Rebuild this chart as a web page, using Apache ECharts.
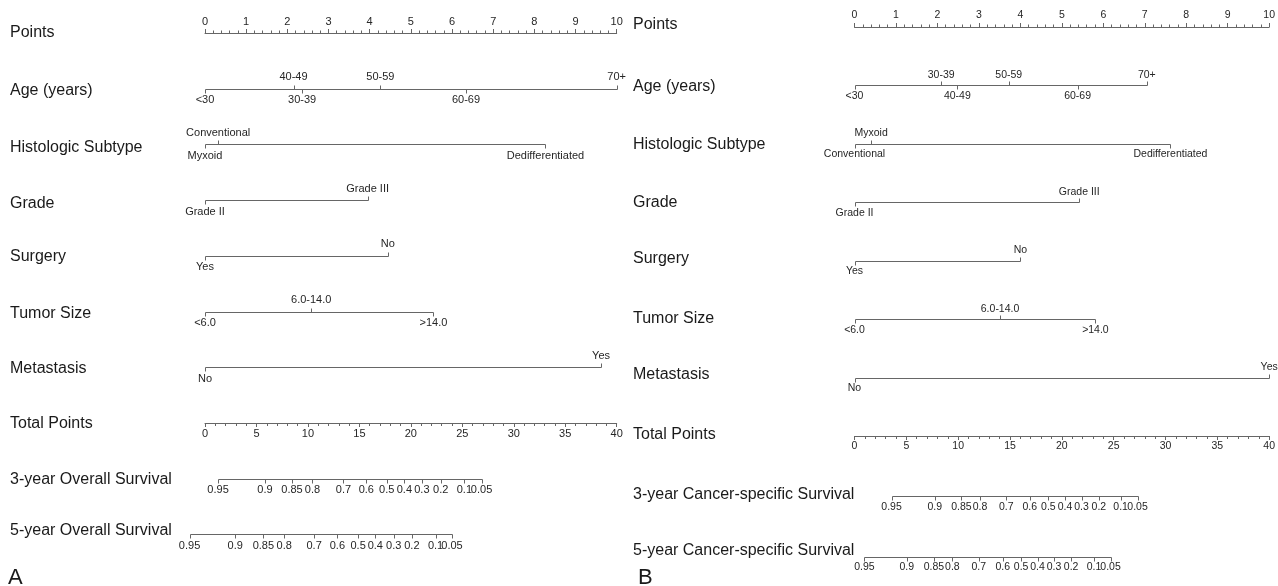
<!DOCTYPE html>
<html>
<head>
<meta charset="utf-8">
<script src="https://cdn.jsdelivr.net/npm/echarts@6/dist/echarts.min.js"></script>
<style>
html,body{margin:0;padding:0;background:#fff;}
#chart{width:1278px;height:586px;}
</style>
</head>
<body>
<div id="chart"></div>
<script>
// ---------------- DATA ----------------
const rowNamesA = ['Points','Age (years)','Histologic Subtype','Grade','Surgery','Tumor Size','Metastasis','Total Points','3-year Overall Survival','5-year Overall Survival'];
const rowNamesB = ['Points','Age (years)','Histologic Subtype','Grade','Surgery','Tumor Size','Metastasis','Total Points','3-year Cancer-specific Survival','5-year Cancer-specific Survival'];

const ageLevels = ['<30','30-39','40-49','50-59','60-69','70+'];
const agePointsA = [0, 2.36, 2.15, 4.26, 6.34, 10];
const agePointsB = [0, 2.09, 2.48, 3.72, 5.38, 7.05];

const histLevelsA = ['Myxoid','Conventional','Dedifferentiated'];
const histPointsA = [0, 0.32, 8.27];
const histLevelsB = ['Conventional','Myxoid','Dedifferentiated'];
const histPointsB = [0, 0.40, 7.62];

const gradeLevels = ['Grade II','Grade III'];
const gradePointsA = [0, 3.95];
const gradePointsB = [0, 5.42];

const surgeryLevels = ['Yes','No'];
const surgeryPointsA = [0, 4.44];
const surgeryPointsB = [0, 4.0];

const tumorLevels = ['<6.0','6.0-14.0','>14.0'];
const tumorPointsA = [0, 2.58, 5.55];
const tumorPointsB = [0, 3.51, 5.81];

const metLevels = ['No','Yes'];
const metPointsA = [0, 9.62];
const metPointsB = [0, 10];

const survProbs = ['0.95','0.9','0.85','0.8','0.7','0.6','0.5','0.4','0.3','0.2','0.1','0.05'];
const os3yrTotalA  = [1.27, 5.83, 8.45, 10.44, 13.45, 15.67, 17.66, 19.37, 21.07, 22.9, 25.2, 26.87];
const os5yrTotalA  = [-1.5, 2.94, 5.67, 7.7, 10.6, 12.86, 14.88, 16.55, 18.33, 20.1, 22.4, 24.0];
const css3yrTotalB = [3.57, 7.74, 10.32, 12.1, 14.64, 16.9, 18.7, 20.3, 21.9, 23.57, 25.67, 27.3];
const css5yrTotalB = [0.95, 5.04, 7.66, 9.44, 11.98, 14.3, 16.07, 17.66, 19.25, 20.9, 23.1, 24.7];

// ---------------- LAYOUT / STYLE ----------------
// label side: 1 = below the line, -1 = above the line
const ageSidesA = [1, 1, -1, -1, 1, -1];
const ageSidesB = [1, -1, 1, -1, 1, -1];
const threeSides = [1, -1, 1];
const twoSides = [1, -1];
const survSides = survProbs.map(() => 1);

const rowPosA = [0,1,2,3,4,5,6,7,8,9];
const rowPosB = [0,1,2,3,4,5,6,7,8.03,9.07];
const labelDyA = [0,2,3,3,1,2,1,1,1,-4];
const labelDyB = [-2,1,1,0,-2,-1,-3,-1,-2,-6];

const LINE = '#666666';
const TEXT = '#262626';
const ROWFONT = '"Liberation Sans", Arial, sans-serif';
const FONT_A = '"Liberation Sans Narrow", "Arial Narrow", "Liberation Sans", sans-serif';
const FONT_B = '"Liberation Sans", Arial, sans-serif';
const TICK = 4;

const panels = [
  { gridLeft: 205, gridRight: 1278 - 616.7, gridTop: 33, gridBottom: 586 - 423, labelX: 10,
    font: FONT_A, fontSize: 11, names: rowNamesA, rowPos: rowPosA, labelDy: labelDyA, labelOff: 11.5,
    vars: [
      [ageLevels, agePointsA, ageSidesA],
      [histLevelsA, histPointsA, threeSides],
      [gradeLevels, gradePointsA, twoSides],
      [surgeryLevels, surgeryPointsA, twoSides],
      [tumorLevels, tumorPointsA, threeSides],
      [metLevels, metPointsA, twoSides]
    ],
    surv: [os3yrTotalA, os5yrTotalA], letter: 'A', letterX: 8 },
  { gridLeft: 854.5, gridRight: 1278 - 1271, gridTop: 27, gridBottom: 586 - 436, labelX: 633,
    font: FONT_B, fontSize: 10.5, names: rowNamesB, rowPos: rowPosB, labelDy: labelDyB, labelOff: 10.5,
    vars: [
      [ageLevels, agePointsB, ageSidesB],
      [histLevelsB, histPointsB, threeSides],
      [gradeLevels, gradePointsB, twoSides],
      [surgeryLevels, surgeryPointsB, twoSides],
      [tumorLevels, tumorPointsB, threeSides],
      [metLevels, metPointsB, twoSides]
    ],
    surv: [css3yrTotalB, css5yrTotalB], letter: 'B', letterX: 638 }
];

const option = { animation: false, grid: [], xAxis: [], yAxis: [], series: [], graphic: [] };

// one custom series per scale row: horizontal line + ticks + labels, all placed through api.coord
function scaleRow(xi, yi, row, xs, labels, sides, P) {
  const lo = Math.min.apply(null, xs), hi = Math.max.apply(null, xs);
  return {
    type: 'custom', coordinateSystem: 'cartesian2d', xAxisIndex: xi, yAxisIndex: yi,
    clip: false, silent: true, z: 3,
    data: xs.map((x, i) => [x, row, sides[i]]),
    renderItem: function (params, api) {
      const p = api.coord([api.value(0), api.value(1)]);
      const s = api.value(2);
      const px = Math.round(p[0]) + 0.5, py = Math.round(p[1]) + 0.5;
      const children = [
        { type: 'line', shape: { x1: px, y1: py, x2: px, y2: py + s * TICK }, style: { stroke: LINE, lineWidth: 1 } },
        { type: 'text', style: { text: labels[params.dataIndex], x: p[0], y: p[1] + s * P.labelOff,
            align: 'center', verticalAlign: 'middle', textAlign: 'center', textVerticalAlign: 'middle',
            fontSize: P.fontSize, fontFamily: P.font, fill: TEXT } }
      ];
      if (params.dataIndex === 0) {
        const a = api.coord([lo, row]), b = api.coord([hi, row]);
        children.push({ type: 'line', shape: { x1: Math.round(a[0]) + 0.5, y1: py, x2: Math.round(b[0]) + 0.5, y2: py },
          style: { stroke: LINE, lineWidth: 1 } });
      }
      return { type: 'group', children: children };
    }
  };
}

panels.forEach((P, gi) => {
  option.grid.push({ left: P.gridLeft, right: P.gridRight, top: P.gridTop, bottom: P.gridBottom, containLabel: false });
  const axLabel = { color: TEXT, fontFamily: P.font, fontSize: P.fontSize };
  option.xAxis.push({
    type: 'value', gridIndex: gi, position: 'top', min: 0, max: 10, interval: 1,
    axisLine: { show: true, lineStyle: { color: LINE, width: 1 } },
    axisTick: { show: true, length: 4, lineStyle: { color: LINE } },
    minorTick: { show: true, splitNumber: 5, length: 2.5, lineStyle: { color: LINE } },
    axisLabel: Object.assign({ margin: 6, showMinLabel: true, showMaxLabel: true }, axLabel),
    splitLine: { show: false }, minorSplitLine: { show: false }
  });
  option.xAxis.push({
    type: 'value', gridIndex: gi, position: 'bottom', min: 0, max: 40, interval: 5,
    axisLine: { show: true, onZero: false, lineStyle: { color: LINE, width: 1 } },
    axisTick: { show: true, length: 4, lineStyle: { color: LINE } },
    minorTick: { show: true, splitNumber: 5, length: 3, lineStyle: { color: LINE } },
    axisLabel: Object.assign({ margin: 5, showMinLabel: true, showMaxLabel: true }, axLabel),
    splitLine: { show: false }, minorSplitLine: { show: false }
  });
  option.yAxis.push({ type: 'value', gridIndex: gi, min: 0, max: 7, inverse: true, show: false,
    splitLine: { show: false } });
  const xP = 2 * gi, xT = 2 * gi + 1, yi = gi;

  P.vars.forEach((v, k) => {
    option.series.push(scaleRow(xP, yi, P.rowPos[k + 1], v[1], v[0], v[2], P));
  });
  P.surv.forEach((arr, k) => {
    option.series.push(scaleRow(xT, yi, P.rowPos[8 + k], arr, survProbs, survSides, P));
  });
  // row names
  option.series.push({
    type: 'custom', coordinateSystem: 'cartesian2d', xAxisIndex: xP, yAxisIndex: yi, clip: false, silent: true,
    data: P.names.map((n, i) => [0, P.rowPos[i]]),
    renderItem: function (params, api) {
      const p = api.coord([api.value(0), api.value(1)]);
      return { type: 'text', style: { text: P.names[params.dataIndex], x: P.labelX, y: p[1] + P.labelDy[params.dataIndex],
        align: 'left', verticalAlign: 'middle', textAlign: 'left', textVerticalAlign: 'middle',
        fontSize: 16, fontFamily: ROWFONT, fill: '#1a1a1a' } };
    }
  });
  option.graphic.push({ type: 'text', left: P.letterX, top: 567,
    style: { text: P.letter, fontSize: 22, fontFamily: ROWFONT, fill: '#1a1a1a' } });
});

const chart = echarts.init(document.getElementById('chart'), null, { renderer: 'canvas' });
chart.setOption(option);
</script>
</body>
</html>
